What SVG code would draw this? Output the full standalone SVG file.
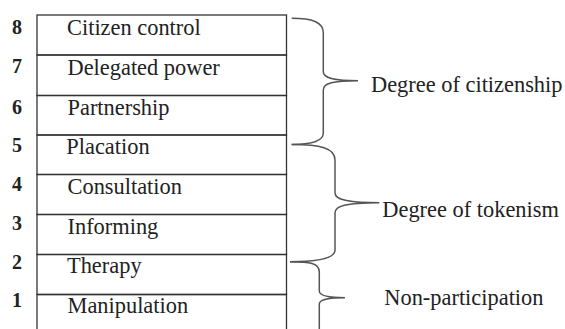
<svg xmlns="http://www.w3.org/2000/svg" width="565" height="329" viewBox="0 0 565 329">
<style>
.rung{fill:none;stroke:#333;stroke-width:1.3}
.brace{fill:none;stroke:#555;stroke-width:1.5}
</style>
<rect width="565" height="329" fill="#fff"/>
<g id="rung-8"><rect class="rung" x="37" y="15" width="249.5" height="40"/><text style="font-family:'Liberation Serif',serif;font-size:20px;font-weight:bold;fill:#222" x="12" y="33.5">8</text><text style="font-family:'Liberation Serif',serif;font-size:22.4px;fill:#222" x="67" y="35">Citizen control</text></g>
<g id="rung-7"><rect class="rung" x="37" y="55" width="249.5" height="40.5"/><text style="font-family:'Liberation Serif',serif;font-size:20px;font-weight:bold;fill:#222" x="12" y="73">7</text><text style="font-family:'Liberation Serif',serif;font-size:22.4px;fill:#222" x="67.5" y="74.5">Delegated power</text></g>
<g id="rung-6"><rect class="rung" x="37" y="95.5" width="249.5" height="39.5"/><text style="font-family:'Liberation Serif',serif;font-size:20px;font-weight:bold;fill:#222" x="12" y="114">6</text><text style="font-family:'Liberation Serif',serif;font-size:22.4px;fill:#222" x="67.5" y="114.5">Partnership</text></g>
<g id="rung-5"><rect class="rung" x="37" y="135" width="249.5" height="39.5"/><text style="font-family:'Liberation Serif',serif;font-size:20px;font-weight:bold;fill:#222" x="12" y="152">5</text><text style="font-family:'Liberation Serif',serif;font-size:22.4px;fill:#222" x="66.3" y="154">Placation</text></g>
<g id="rung-4"><rect class="rung" x="37" y="174.5" width="249.5" height="40"/><text style="font-family:'Liberation Serif',serif;font-size:20px;font-weight:bold;fill:#222" x="12" y="191">4</text><text style="font-family:'Liberation Serif',serif;font-size:22.4px;fill:#222" x="67.5" y="194">Consultation</text></g>
<g id="rung-3"><rect class="rung" x="37" y="214.5" width="249.5" height="40"/><text style="font-family:'Liberation Serif',serif;font-size:20px;font-weight:bold;fill:#222" x="12" y="230">3</text><text style="font-family:'Liberation Serif',serif;font-size:22.4px;fill:#222" x="67.5" y="234">Informing</text></g>
<g id="rung-2"><rect class="rung" x="37" y="254.5" width="249.5" height="40"/><text style="font-family:'Liberation Serif',serif;font-size:20px;font-weight:bold;fill:#222" x="12" y="269">2</text><text style="font-family:'Liberation Serif',serif;font-size:22.4px;fill:#222" x="67" y="273.3">Therapy</text></g>
<g id="rung-1"><path class="rung" d="M37,329 V294.5 H286.5 V329"/><text style="font-family:'Liberation Serif',serif;font-size:20px;font-weight:bold;fill:#222" x="12" y="307">1</text><text style="font-family:'Liberation Serif',serif;font-size:22.4px;fill:#222" x="67.5" y="313.3">Manipulation</text></g>
<g id="connectors">
<path class="brace" d="M291.7,18.3 C312,18.3 323.3,22 323.3,33 L323.3,71.7 C323.3,78 333,80.7 358,80.7 C333,80.7 323.3,83 323.3,90 L323.3,133 C323.3,141 312,144.5 291.7,144.5"/>
<path class="brace" d="M291.7,144.5 C320,144.5 335,148 335,160 L335,193 C335,199 345,202.7 379.3,202.7 C345,202.7 335,206 335,213 L335,250 C335,258 320,261.7 290,261.7"/>
<path class="brace" d="M290,261.7 C310,261.7 319.3,263 319.3,272 L319.3,291 C319.3,295 325,297.7 345,297.7 C325,297.7 319.3,300 319.3,304 L319.3,329"/>
</g>
<g id="group-citizenship"><text style="font-family:'Liberation Serif',serif;font-size:22.4px;fill:#222" x="371" y="92">Degree of citizenship</text></g>
<g id="group-tokenism"><text style="font-family:'Liberation Serif',serif;font-size:22.4px;fill:#222" x="382.3" y="217.3">Degree of tokenism</text></g>
<g id="group-nonparticipation"><text style="font-family:'Liberation Serif',serif;font-size:22.4px;fill:#222" x="384.3" y="305">Non-participation</text></g>
</svg>
